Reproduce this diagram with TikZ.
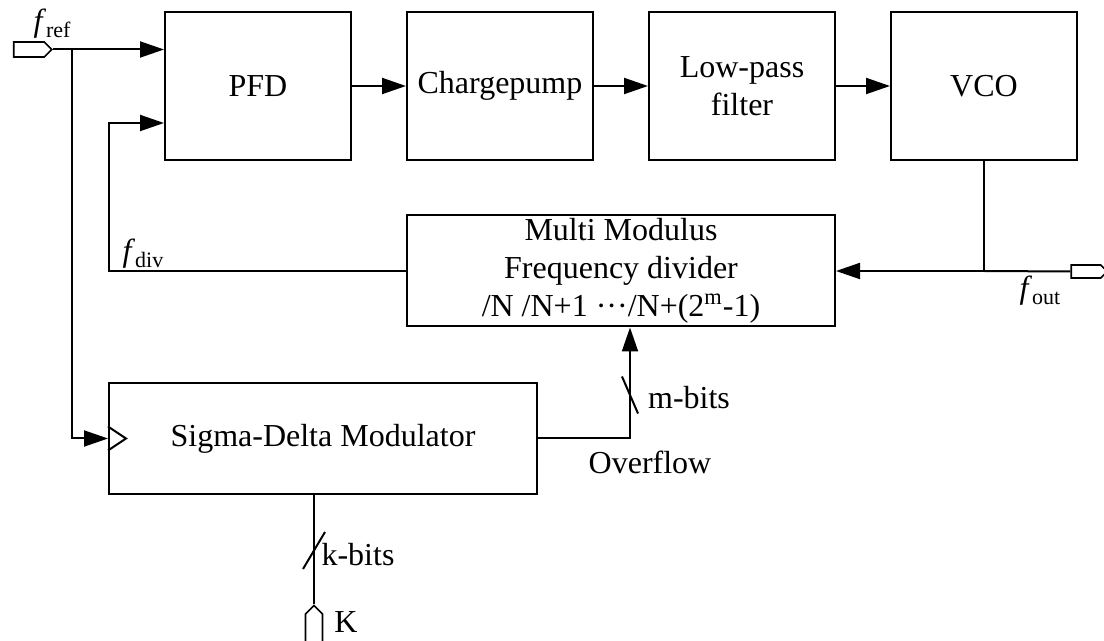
\documentclass[tikz,border=0pt]{standalone}
\usepackage{fontspec}
\setmainfont{Liberation Serif}
\usepackage{tikz}
\usetikzlibrary{arrows.meta, positioning, shapes.symbols, calc}

\newcommand{\fsig}[1]{\textit{f}\raisebox{-0.4ex}{\fontsize{11}{11}\selectfont #1}}

\begin{document}
\begin{tikzpicture}[
    x=0.5pt, y=-0.5pt,
    node distance=27pt,
    font=\fontsize{16}{19}\selectfont,
    line width=1pt,
    box/.style={
        rectangle,
        draw,
        align=center,
        minimum width=93pt,
        minimum height=74pt,
        inner sep=0pt
    },
    widebox/.style={box, minimum width=214pt, minimum height=55.5pt},
    port/.style={signal, draw, line width=0.8pt, inner sep=0pt},
    arrow/.style={-{Triangle[length=12pt, width=8pt]}}
]
\useasboundingbox (0,0) rectangle (1104,641);

% Loop blocks
\node[box] (pfd) at (258,86) {PFD};
\node[box, right=of pfd] (cp) {Chargepump};
\node[box, right=of cp] (lpf) {Low-pass\\filter};
\node[box, right=of lpf] (vco) {VCO};

\draw[arrow] (pfd) -- (cp);
\draw[arrow] (cp) -- (lpf);
\draw[arrow] (lpf) -- (vco);

% Divider and modulator
\node[widebox] (mm) at (621,271) {Multi Modulus\\Frequency divider\\/N /N+1 \textperiodcentered\textperiodcentered\textperiodcentered/N+(2\textsuperscript{m}-1)};
\node[widebox] (sdm) at (323,438.5) {Sigma-Delta Modulator};
\draw ($(sdm.west)+(0,-12)$) -- ($(sdm.west)+(18,0)$) -- ($(sdm.west)+(0,12)$);

% Ports
\node[port, signal to=east, minimum width=19pt, minimum height=7.5pt] (fref) at (29,49.5) {};
\node[port, signal to=east, minimum width=18pt, minimum height=6.5pt] (fout) at (1086,271.5) {};
\node[port, signal to=north, minimum width=8.5pt, minimum height=22pt] (kin) at (314,636) {};

\node (freflbl) at (52,24) {\fsig{ref}};
\node (fdivlbl) at (143,254) {\fsig{div}};
\node (foutlbl) at (1040,291) {\fsig{out}};

% Reference input
\coordinate (split) at (72,49.5);
\draw[arrow] (fref.east) -- (fref.east -| pfd.west);
\draw[arrow] (split) |- (sdm.west);

% Feedback
\coordinate (tap) at (vco.south |- mm.east);
\coordinate (fb) at (109,271);
\draw (vco.south) -- (tap);
\draw[arrow] (tap) -- (mm.east);
\draw (tap) -- (fout.west);
\draw[arrow] (mm.west) -- (fb) |- ($(pfd.west)+(0,37)$);

% Overflow bits
\coordinate (ovtap) at ($(mm.south)+(9,0)$);
\draw[arrow] (sdm.east) -| (ovtap);
\draw ($(ovtap)+(-8,49)$) -- ($(ovtap)+(8,86)$);
\node (mlbl) at (689,398) {m-bits};
\node (ovf) at (650,462) {Overflow};

% Input word
\draw (sdm.south -| kin) -- (kin.north);
\draw (303,569) -- (325,532);
\node (klbl) at (358,555) {k-bits};
\node (kword) at (346,622) {K};

\end{tikzpicture}
\end{document}
